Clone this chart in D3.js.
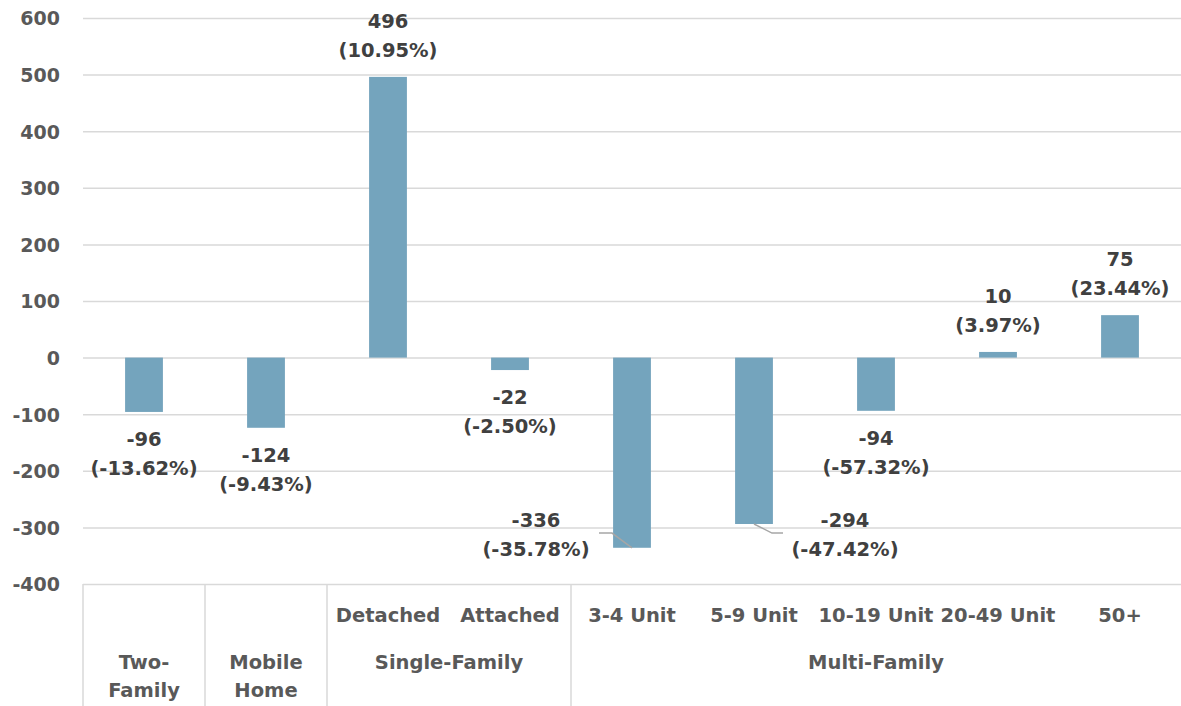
<!DOCTYPE html>
<html>
<head>
<meta charset="utf-8">
<script src="https://cdn.jsdelivr.net/npm/d3@7"></script>
<style>
  html, body { margin: 0; padding: 0; background: #fff; }
  svg text { font-family: "DejaVu Sans", "Liberation Sans", sans-serif; font-weight: 700; }
</style>
</head>
<body>
<svg id="chart" width="1181" height="706"></svg>
<script>
// Housing units change by structure type
const categories = ["Two-Family", "Mobile Home", "Detached", "Attached", "3-4 Unit", "5-9 Unit", "10-19 Unit", "20-49 Unit", "50+"];
const values = [-96, -124, 496, -22, -336, -294, -94, 10, 75];
const percents = ["-13.62%", "-9.43%", "10.95%", "-2.50%", "-35.78%", "-47.42%", "-57.32%", "3.97%", "23.44%"];
const yTicks = [-400, -300, -200, -100, 0, 100, 200, 300, 400, 500, 600];
// Outer axis groups: label lines, first and last category index
const groups = [
  { name: ["Two-", "Family"], from: 0, to: 0 },
  { name: ["Mobile", "Home"], from: 1, to: 1 },
  { name: ["Single-Family"], from: 2, to: 3 },
  { name: ["Multi-Family"], from: 4, to: 8 }
];
// Categories whose value label sits beside the bar with a leader line
const sideLabels = { "3-4 Unit": "left", "5-9 Unit": "right" };

const svg = d3.select("#chart");
const plotLeft = 83, plotRight = 1181, plotTop = 18, plotBottom = 584;

const x = d3.scaleBand().domain(categories).range([plotLeft, plotRight]).padding(0);
const y = d3.scaleLinear().domain([-400, 600]).range([plotBottom, plotTop]);
const barW = x.bandwidth() * 0.31;

const axisColor = "#595959";
const labelColor = "#404040";
const gridColor = "#d9d9d9";
const barColor = "#74a4bd";
const fontFamily = "'DejaVu Sans', 'Liberation Sans', sans-serif";

// Gridlines and y tick labels (plain hyphen for negatives)
const yAxis = d3.axisLeft(y).tickValues(yTicks).tickFormat((d) => String(d))
  .tickSize(-(plotRight - plotLeft)).tickPadding(23);
const gy = svg.append("g").attr("transform", `translate(${plotLeft},0)`).call(yAxis);
gy.select(".domain").remove();
gy.selectAll(".tick line").attr("stroke", gridColor).attr("stroke-width", 1.5);
gy.selectAll(".tick text").attr("fill", axisColor).attr("font-size", 19).attr("dy", "0.36em")
  .attr("font-family", fontFamily).attr("font-weight", 700);

// Bars
svg.append("g").selectAll("rect").data(categories).join("rect")
  .attr("x", (d) => x(d) + (x.bandwidth() - barW) / 2)
  .attr("width", barW)
  .attr("y", (d, i) => y(Math.max(0, values[i])))
  .attr("height", (d, i) => Math.abs(y(values[i]) - y(0)))
  .attr("fill", barColor);

// Value labels (two lines: count, then percent change)
const lab = svg.append("g").attr("fill", labelColor).attr("font-size", 19.5).attr("text-anchor", "middle");
const lineGap = 29;
const sideLeaderY = y(-310);   // common height of the side labels' leader lines
categories.forEach((c, i) => {
  const v = values[i];
  const cx = x(c) + x.bandwidth() / 2;
  let lx = cx, base1;
  const side = sideLabels[c];
  if (side) {
    const end = y(v);
    lx = side === "left" ? cx - 96 : cx + 91;
    base1 = sideLeaderY - 6;
    // leader line from the label to the bar end
    const hx = side === "left" ? cx - 33 : cx + 29;
    const kx = side === "left" ? cx - 20 : cx + 18;
    svg.append("path")
      .attr("d", `M${hx},${sideLeaderY}H${kx}L${cx},${end}`)
      .attr("fill", "none").attr("stroke", "#a6a6a6").attr("stroke-width", 1.5);
  } else if (v >= 0) {
    base1 = y(v) - 49;
  } else {
    base1 = y(v) + 34;
  }
  lab.append("text").attr("x", lx).attr("y", base1).text(v);
  lab.append("text").attr("x", lx).attr("y", base1 + lineGap).text(`(${percents[i]})`);
});

// Category axis with grouped labels
const ax = svg.append("g").attr("fill", axisColor).attr("font-size", 19.5).attr("text-anchor", "middle");
const sepColor = "#d9d9d9";
const sepX = new Set([plotLeft]);
groups.forEach((g) => {
  sepX.add(x(categories[g.from]));
  sepX.add(x(categories[g.to]) + x.bandwidth());
});
sepX.delete(plotRight);
sepX.forEach((sx) => {
  svg.append("line").attr("x1", sx).attr("x2", sx).attr("y1", plotBottom).attr("y2", 706)
    .attr("stroke", sepColor).attr("stroke-width", 1.5);
});
categories.forEach((c, i) => {
  const inGroup = groups.find((g) => g.from <= i && i <= g.to);
  if (inGroup.from !== inGroup.to) {
    ax.append("text").attr("x", x(c) + x.bandwidth() / 2).attr("y", 622).text(c);
  }
});
groups.forEach((g) => {
  const gx = (x(categories[g.from]) + x(categories[g.to]) + x.bandwidth()) / 2;
  g.name.forEach((line, k) => {
    ax.append("text").attr("x", gx).attr("y", 669 + k * 28).text(line);
  });
});
</script>
</body>
</html>
